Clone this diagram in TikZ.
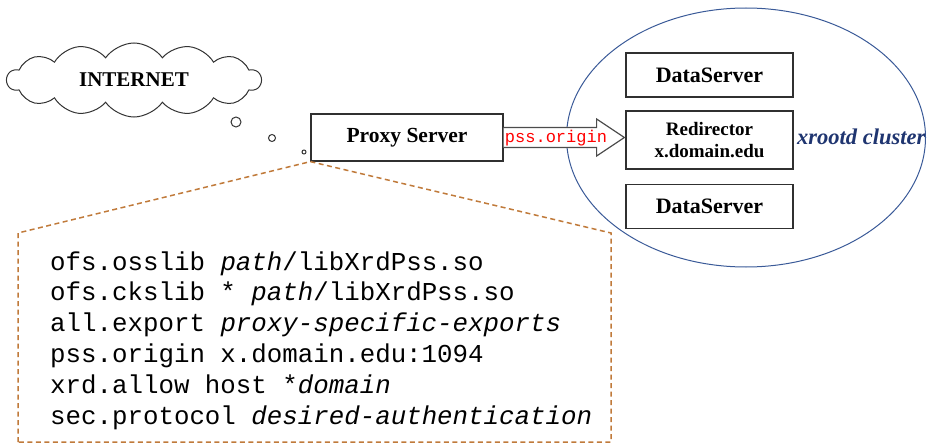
\documentclass[tikz,border=0pt]{standalone}
\usepackage{fontspec}
\setmainfont{Liberation Serif}
\setmonofont{Liberation Mono}
\usetikzlibrary{shapes.symbols,shapes.geometric,calc}
\definecolor{boxgray}{HTML}{303030}
\definecolor{ellblue}{HTML}{3A5A98}
\definecolor{navyc}{HTML}{1F3570}
\definecolor{dashbrown}{HTML}{C07A3A}
\begin{document}
\begin{tikzpicture}[x=1pt,y=-1pt,
  srvbox/.style={draw=boxgray, line width=1.2pt, fill=white, minimum width=167pt, minimum height=44pt, inner sep=0pt, font=\bfseries\fontsize{22}{24}\selectfont},
  codeline/.style={anchor=base west, inner sep=0pt, font=\ttfamily\fontsize{25.8}{30}\selectfont},
  dashline/.style={draw=dashbrown, line width=1.5pt, dash pattern=on 5pt off 3.5pt},
  bubble/.style={draw=black!80, line width=1pt, fill=white, circle, inner sep=0pt},
  arrowbody/.style={draw=black!70, line width=1.2pt, fill=white, line join=miter}
]
\useasboundingbox (0,0) rectangle (927,444);

% proxy server
\node[draw=boxgray, line width=1.2pt, fill=white, minimum width=192pt, minimum height=47pt, inner sep=0pt, font=\bfseries\fontsize{21.5}{24}\selectfont] (proxy) at (407,137.5) {Proxy Server};

% dashed callout
\coordinate (cbl) at (18,442);
\coordinate (ctl) at (18,233);
\coordinate (ctr) at (611,233);
\coordinate (cbr) at (611,442);
\draw[dashline] (cbl) -- (ctl) -- (proxy.south west) -- (ctr) -- (cbr) -- cycle;

% cluster ellipse
\node[draw=ellblue, line width=1pt, ellipse, minimum width=359pt, minimum height=259pt, inner sep=0pt] (cluster) at (746,137.5) {};

% servers
\node[srvbox] (ds1) at (709.5,75) {DataServer};
\node[srvbox, minimum height=58pt, align=center, font=\bfseries\fontsize{19}{22}\selectfont] (redir) at (709.5,140) {Redirector\\x.domain.edu};
\node[srvbox] (ds2) at (709.5,206.5) {DataServer};
\node[anchor=base west, inner sep=0pt, font=\bfseries\itshape\fontsize{22.5}{22}\selectfont, text=navyc] (xlabel) at (797,144.5) {xrootd cluster};

% block arrow
\draw[arrowbody] ($(proxy.east)+(0,-10)$) -- ($(proxy.east)+(93,-10)$) -- ($(proxy.east)+(93,-18.5)$)
  -- ($(redir.west |- proxy.east)+(-1,0)$) -- ($(proxy.east)+(93,18.5)$) -- ($(proxy.east)+(93,10)$) -- ($(proxy.east)+(0,10)$);
\node[font=\ttfamily\fontsize{17}{17}\selectfont, text=red, inner sep=0pt] (porig) at (556,138) {pss.origin};

% internet cloud
\node[cloud, cloud puffs=14, cloud puff arc=110, aspect=3.6, draw=black!80, line width=1pt, fill=white, minimum width=254pt, minimum height=74pt, inner sep=0pt, font=\bfseries\fontsize{21}{24}\selectfont] (net) at (134,80) {INTERNET};

% thought bubbles
\node[bubble, minimum size=10pt] (b1) at (236,122) {};
\node[bubble, minimum size=7pt] (b2) at (272,138) {};
\node[bubble, minimum size=4pt] (b3) at (304,152) {};

% configuration lines
\node[codeline] (c1) at (50,270) {ofs.osslib \textit{path}/libXrdPss.so};
\node[codeline] (c2) at (50,300.8) {ofs.ckslib * \textit{path}/libXrdPss.so};
\node[codeline] (c3) at (50,331.6) {all.export \textit{proxy-specific-exports}};
\node[codeline] (c4) at (50,362.4) {pss.origin x.domain.edu:1094};
\node[codeline] (c5) at (50,393.2) {xrd.allow host *\textit{domain}};
\node[codeline] (c6) at (50,424) {sec.protocol \textit{desired-authentication}};
\end{tikzpicture}
\end{document}
